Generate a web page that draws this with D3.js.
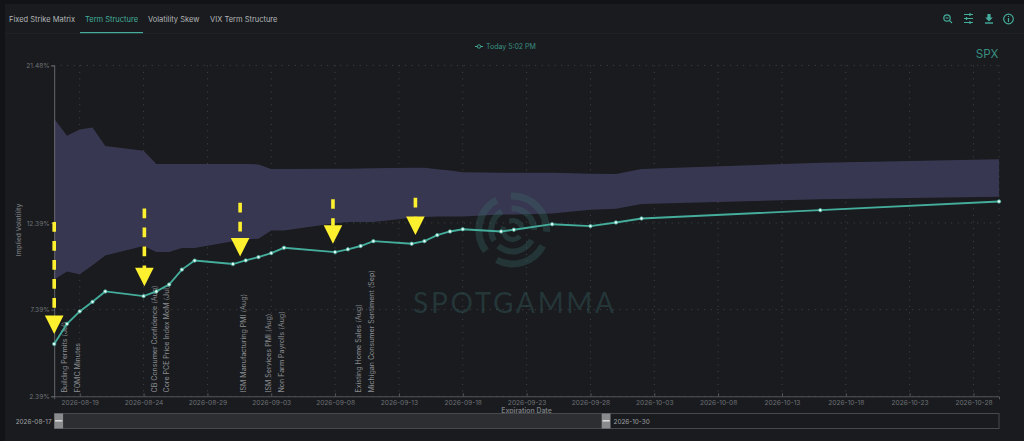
<!DOCTYPE html>
<html>
<head>
<meta charset="utf-8">
<script src="https://d3js.org/d3.v7.min.js"></script>
<style>
  html, body { margin: 0; padding: 0; background: #121317; overflow: hidden; }
  svg { display: block; }
  text { font-family: Inter, "Noto Sans", sans-serif; }
</style>
</head>
<body>
<div id="chart"></div>
<script>
// term structure page

const dates = ["2026-08-17","2026-08-18","2026-08-19","2026-08-20","2026-08-21","2026-08-24","2026-08-25","2026-08-26",
  "2026-08-27","2026-08-28","2026-08-31","2026-09-01","2026-09-02","2026-09-03","2026-09-04","2026-09-08",
  "2026-09-09","2026-09-10","2026-09-11","2026-09-14","2026-09-15","2026-09-16","2026-09-17","2026-09-18",
  "2026-09-21","2026-09-22","2026-09-25","2026-09-28","2026-09-30","2026-10-02","2026-10-16","2026-10-30"];

const todayIV = [5.41,6.57,7.29,7.84,8.44,8.17,8.44,8.84,
  9.70,10.22,10.02,10.23,10.42,10.65,10.96,10.71,
  10.87,11.06,11.34,11.19,11.34,11.69,11.90,12.03,
  11.90,12.00,12.32,12.21,12.42,12.65,13.13,13.63];

const bandHigh = [18.40,17.42,17.78,17.90,16.83,16.56,15.79,15.79,
  15.79,15.79,15.79,15.79,15.77,15.50,15.50,15.52,
  15.52,15.53,15.55,15.58,15.58,15.49,15.41,15.31,
  15.29,15.29,15.28,15.23,15.22,15.50,15.87,16.06];

const bandLow = [9.13,9.59,9.43,9.95,10.52,11.06,10.71,10.71,
  10.94,10.94,11.33,11.44,11.48,11.96,11.96,12.38,
  12.44,12.44,12.44,12.69,12.73,12.76,12.76,12.76,
  12.88,12.88,12.94,13.15,13.21,13.49,13.76,13.90];

const yTicks = [2.39, 7.39, 12.39, 21.48];
const xTicks = ["2026-08-19","2026-08-24","2026-08-29","2026-09-03","2026-09-08","2026-09-13","2026-09-18",
  "2026-09-23","2026-09-28","2026-10-03","2026-10-08","2026-10-13","2026-10-18","2026-10-23","2026-10-28"];

const eventNames = ["Building Permits (Jul)","FOMC Minutes","CB Consumer Confidence (Aug)","Core PCE Price Index MoM (Jul)",
  "ISM Manufacturing PMI (Aug)","ISM Services PMI (Aug)","Non Farm Payrolls (Aug)","Existing Home Sales (Aug)",
  "Michigan Consumer Sentiment (Sep)"];
const eventDates = ["2026-08-18","2026-08-19","2026-08-25","2026-08-26","2026-09-01","2026-09-03","2026-09-04","2026-09-10","2026-09-11"];

// hand drawn yellow arrows on the screenshot
const arrowDates = ["2026-08-17T00:00","2026-08-24T01:30","2026-08-31T13:30","2026-09-07T20:00","2026-09-14T07:00"];
const arrowStart = [12.44,13.22,13.55,13.76,13.84];
const arrowTip = [5.98,8.74,10.46,11.19,11.69];

const tabs = ["Fixed Strike Matrix","Term Structure","Volatility Skew","VIX Term Structure"];
const tabX = [9,85,148,210];

const width = 1024, height = 441;
const teal = "#44ad9b";
const parse = s => new Date(s + (s.length > 10 ? "Z" : "T00:00Z"));

const svg = d3.select("#chart").append("svg").attr("width", width).attr("height", height);

// panel
svg.append("rect").attr("x", 5).attr("y", 4).attr("width", width - 5).attr("height", height - 4).attr("fill", "#191b1f");
svg.append("line").attr("x1", 5).attr("x2", width).attr("y1", 33.5).attr("y2", 33.5).attr("stroke", "#1f2125");

// tabs
svg.selectAll(".tab").data(tabs).join("text")
  .attr("x", (d, i) => tabX[i]).attr("y", 21.8)
  .attr("font-size", 7.5)
  .attr("fill", (d, i) => i === 1 ? teal : "#b4b6b8")
  .text(d => d);
svg.append("rect").attr("x", 80).attr("y", 32).attr("width", 63).attr("height", 1.2).attr("fill", teal);

// scales
const xScale = d3.scaleUtc().domain([parse("2026-08-17"), parse("2026-10-30")]).range([54.2, 999]);
const yScale = d3.scaleLinear().domain([2.39, 21.48]).range([396.3, 65.4]);

const gridColor = "#44464b";

// grid
const gridG = svg.append("g");
gridG.selectAll(".vg").data(xTicks.concat(["2026-10-30"])).join("line")
  .attr("x1", d => xScale(parse(d))).attr("x2", d => xScale(parse(d)))
  .attr("y1", yScale(21.48)).attr("y2", yScale(2.39))
  .attr("stroke", gridColor).attr("stroke-width", 1).attr("stroke-dasharray", "1 5.5");
gridG.selectAll(".hg").data(yTicks).join("line")
  .attr("x1", xScale.range()[0]).attr("x2", xScale.range()[1])
  .attr("y1", d => yScale(d)).attr("y2", d => yScale(d))
  .attr("stroke", gridColor).attr("stroke-width", 1).attr("stroke-dasharray", "1 5.5");

// iv band
const rows = dates.map((d, i) => ({ date: parse(d), iv: todayIV[i], hi: bandHigh[i], lo: bandLow[i] }));
const area = d3.area().x(d => xScale(d.date)).y0(d => yScale(d.lo)).y1(d => yScale(d.hi));
svg.append("path").datum(rows).attr("d", area).attr("fill", "#3a3953").attr("fill-opacity", 0.97);

// watermark
const logoG = svg.append("g").attr("transform", "translate(512.7,230)").attr("fill", "#3a6a68").attr("fill-opacity", 0.34);
const logoArcs = [[30.5,37.5,-3,93],[30.5,37.5,118,208],[30.5,37.5,-128,-28],
  [18.5,24.5,-3,90],[18.5,24.5,118,222],[18.5,24.5,-120,-30],
  [7,12,-20,75],[7,12,130,290]];
const arcGen = d3.arc();
logoG.selectAll("path").data(logoArcs).join("path")
  .attr("d", d => arcGen({ innerRadius: d[0], outerRadius: d[1], startAngle: d[2] * Math.PI / 180, endAngle: d[3] * Math.PI / 180 }));
svg.append("text").attr("x", 413).attr("y", 313)
  .style("font-family", "Lato").attr("font-size", 28).attr("font-weight", 400)
  .attr("textLength", 201).attr("lengthAdjust", "spacing")
  .attr("fill", "#3a6a68").attr("fill-opacity", 0.34).text("SPOTGAMMA");

// axes
const axisColor = "#55575b";
const xAxis = d3.axisBottom(xScale).tickValues(xTicks.map(parse)).tickSize(3).tickFormat(d3.utcFormat("%Y-%m-%d"));
const xAxisG = svg.append("g").attr("transform", `translate(0,${yScale(2.39)})`).call(xAxis);
xAxisG.select(".domain").attr("stroke", axisColor);
xAxisG.selectAll(".tick line").attr("stroke", axisColor).attr("y1", -3).attr("y2", 0);
xAxisG.selectAll("text").attr("fill", "#6f7175").attr("font-size", 6.6).attr("y", 4).attr("dy", "0.71em");

const yAxis = d3.axisLeft(yScale).tickValues(yTicks).tickSize(3).tickFormat(d => d.toFixed(2) + "%");
const yAxisG = svg.append("g").attr("transform", `translate(${xScale.range()[0]},0)`).call(yAxis);
yAxisG.select(".domain").attr("stroke", "#66686c");
yAxisG.selectAll(".tick line").attr("stroke", axisColor);
yAxisG.selectAll("text").attr("fill", "#6f7175").attr("font-size", 6.6).attr("x", -4.5);

svg.append("text").attr("transform", "translate(21.3,230) rotate(-90)").attr("text-anchor", "middle")
  .attr("font-size", 6.6).attr("font-weight", 600).attr("fill", "#6d6f73").text("Implied Volatility");
svg.append("text").attr("x", 526.5).attr("y", 412.6).attr("text-anchor", "middle")
  .attr("font-size", 6.9).attr("font-weight", 600).attr("fill", "#7a7c80").text("Expiration Date");

// event labels
svg.selectAll(".evt").data(eventNames).join("text")
  .attr("transform", (d, i) => `translate(${xScale(parse(eventDates[i])) + 0.2},392.5) rotate(-90)`)
  .attr("font-size", 7.05).attr("fill", "#8b8d90").text(d => d);

// iv line
const line = d3.line().x(d => xScale(d.date)).y(d => yScale(d.iv));
svg.append("path").datum(rows).attr("d", line).attr("fill", "none").attr("stroke", teal).attr("stroke-width", 1.9);
svg.selectAll(".pt").data(rows).join("circle")
  .attr("cx", d => xScale(d.date)).attr("cy", d => yScale(d.iv)).attr("r", 1.7)
  .attr("fill", "#eafaf6").attr("stroke", teal).attr("stroke-width", 0.8);

// yellow arrows
const yellow = "#fdf02e";
const arrowG = svg.append("g");
arrowDates.forEach((d, i) => {
  const ax = xScale(parse(d)), y1 = yScale(arrowStart[i]), tip = yScale(arrowTip[i]);
  arrowG.append("line").attr("x1", ax).attr("x2", ax).attr("y1", y1).attr("y2", tip - 18)
    .attr("stroke", yellow).attr("stroke-width", 3.6).attr("stroke-dasharray", "9.6 9.4");
  arrowG.append("path")
    .attr("d", d3.line()([[ax - 9.3, tip - 18.5], [ax + 9.3, tip - 18.5], [ax, tip]]) + "Z")
    .attr("fill", yellow);
});

// legend
const legendG = svg.append("g");
legendG.append("line").attr("x1", 475).attr("x2", 483).attr("y1", 46.5).attr("y2", 46.5).attr("stroke", teal).attr("stroke-width", 1);
legendG.append("circle").attr("cx", 479).attr("cy", 46.5).attr("r", 1.7).attr("fill", "#191b1f").attr("stroke", teal).attr("stroke-width", 0.9);
legendG.append("text").attr("x", 486).attr("y", 49).attr("font-size", 7).attr("fill", "#3a8f80").text("Today 5:02 PM");

svg.append("text").attr("x", 998.5).attr("y", 57.5).attr("text-anchor", "end").attr("font-size", 11.6).attr("fill", "#3a8f80").text("SPX");

// date range slider
const sliderG = svg.append("g");
sliderG.append("rect").attr("x", 54.5).attr("y", 413.5).attr("width", 944.5).attr("height", 15)
  .attr("fill", "none").attr("stroke", "#47494d");
sliderG.append("rect").attr("x", 54.5).attr("y", 414).attr("width", 552).attr("height", 14).attr("fill", "#2c2e32");
[54.3, 601.7].forEach(hx => {
  sliderG.append("rect").attr("x", hx).attr("y", 413.5).attr("width", 8.8).attr("height", 15).attr("fill", "#8a8b8d");
  sliderG.append("rect").attr("x", hx + 0.8).attr("y", 420).attr("width", 7.2).attr("height", 1.6).attr("fill", "#d8d8d8");
});
sliderG.append("text").attr("x", 51.5).attr("y", 423.6).attr("text-anchor", "end").attr("font-size", 6.4).attr("fill", "#a0a2a4").text("2026-08-17");
sliderG.append("text").attr("x", 613.5).attr("y", 423.6).attr("font-size", 6.4).attr("fill", "#a0a2a4").text("2026-10-30");

// toolbar icons
const iconG = svg.append("g").attr("fill", "none").attr("stroke", teal).attr("stroke-width", 1.2);
iconG.append("circle").attr("cx", 947).attr("cy", 18).attr("r", 3.2);
iconG.append("path").attr("d", "M949.4 20.4L952 23M945.5 18H948.5");
iconG.append("path").attr("d", "M964 15H973M964 19H973M964 23H973M970 13.6V16.4M966.5 17.6V20.4M970 21.6V24.4").attr("transform", "translate(0,-0.5)");
iconG.append("path").attr("d", "M985 23H993").attr("stroke-width", 1.4);
iconG.append("path").attr("d", "M987.4 14H990.6V17.6H992.8L989 21.4L985.2 17.6H987.4Z").attr("fill", teal).attr("stroke", "none");
iconG.append("circle").attr("cx", 1008.5).attr("cy", 19).attr("r", 4.8);
iconG.append("path").attr("d", "M1008.5 18V22M1008.5 16V17");
</script>
</body>
</html>
